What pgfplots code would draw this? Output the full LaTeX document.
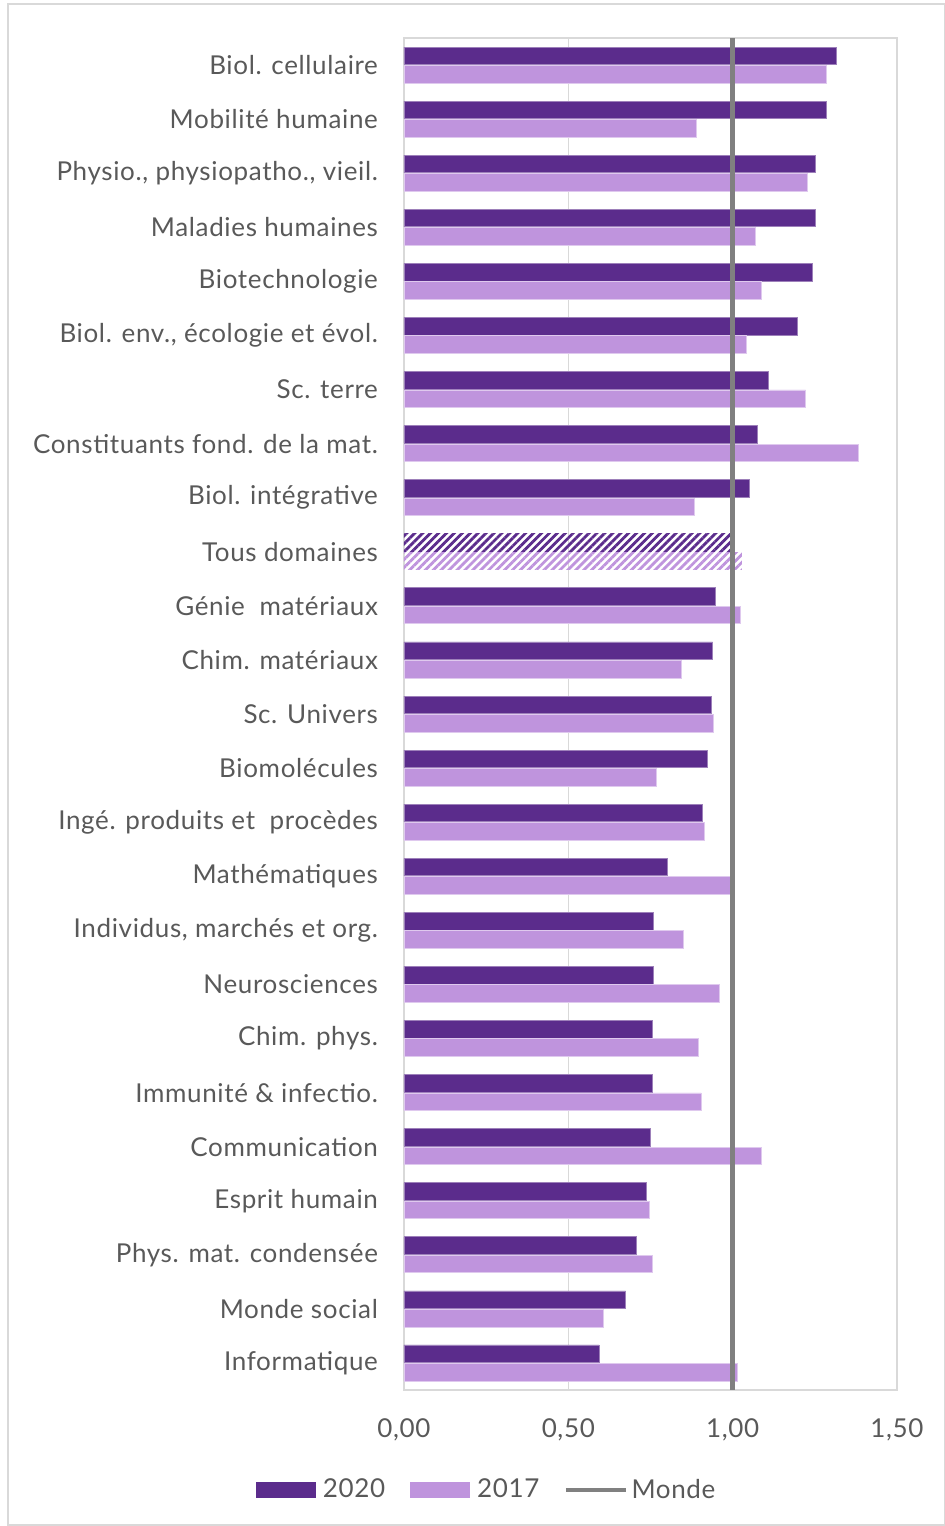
\documentclass[border=0pt]{standalone}
\usepackage{pgfplots}
\pgfplotsset{compat=1.18}
\usepackage{pgfplotstable}
\usepackage{fontspec}
\setmainfont{Lato}[LetterSpace=2.5]
\usetikzlibrary{patterns.meta}
\definecolor{c2020}{HTML}{5B2C8C}
\definecolor{c2017}{HTML}{BF94DD}
\definecolor{txt}{HTML}{595959}
\definecolor{grd}{HTML}{D9D9D9}
\definecolor{monde}{HTML}{808080}

% 2020 values (Tous domaines at index 9 drawn separately)
\pgfplotstableread{
y v
0 1.317
1 1.285
2 1.253
3 1.253
4 1.244
5 1.196
6 1.110
7 1.074
8 1.052
10 0.948
11 0.939
12 0.934
13 0.922
14 0.908
15 0.800
16 0.760
17 0.760
18 0.755
19 0.755
20 0.751
21 0.737
22 0.706
23 0.674
24 0.594
}\dataA
% 2017 values
\pgfplotstableread{
y v
0 1.285
1 0.890
2 1.226
3 1.070
4 1.087
5 1.043
6 1.222
7 1.384
8 0.885
10 1.024
11 0.845
12 0.940
13 0.769
14 0.913
15 0.996
16 0.850
17 0.961
18 0.895
19 0.904
20 1.087
21 0.746
22 0.755
23 0.607
24 1.015
}\dataB
\pgfplotstableread{
y v
9 0.995
}\dataAall
\pgfplotstableread{
y v
9 1.028
}\dataBall

\begin{document}
\begin{tikzpicture}
\useasboundingbox (-202pt,-68pt) rectangle (270pt,695pt);
\draw[grd, line width=1pt] (-198pt,-67.5pt) rectangle (270.5pt,693pt);
\begin{axis}[
  at={(0pt,0pt)}, anchor=south west,
  scale only axis, width=246.5pt, height=676pt,
  xmin=0, xmax=1.5, ymin=-0.5, ymax=24.5, y dir=reverse,
  axis line style={grd, line width=1pt},
  xmajorgrids, grid style={grd, line width=0.8pt},
  major tick length=0pt,
  xtick={0,0.5,1,1.5},
  xticklabels={{0,00},{0,50},{1,00},{1,50}},
  ytick={0,...,24},
  yticklabels={Biol. cellulaire, Mobilité humaine, {Physio., physiopatho., vieil.}, Maladies humaines, Biotechnologie, {Biol. env., écologie et évol.}, Sc. terre, Constituants fond. de la mat., Biol. intégrative, Tous domaines, Génie\ \ matériaux, Chim. matériaux, Sc. Univers, Biomolécules, Ingé. produits et\ \ procèdes, Mathématiques, {Individus, marchés et org.}, Neurosciences, Chim. phys., Immunité \& infectio., Communication, Esprit humain, Phys. mat. condensée, Monde social, Informatique},
  ticklabel style={font=\fontsize{13}{15}\selectfont, text=txt},
  xticklabel style={yshift=-11pt},
  yticklabel style={xshift=-9.5pt},
  legend style={at={(0.170,0)}, anchor=center, yshift=-50pt, draw=none, fill=none,
    legend columns=3, font=\fontsize{13}{15}\selectfont, text=txt,
    /tikz/every even column/.append style={column sep=10.5pt}},
  legend cell align=left,
]
\addplot[xbar, bar width=8.8pt, bar shift=4.6pt, fill=c2020, draw=c2020!60!white, line width=0.4pt,
  legend image code/.code={\fill[c2020] (0pt,-3.6pt) rectangle (29.5pt,3.6pt); \path (31pt,0pt);}]
  table[x=v, y=y]{\dataA};
\addplot[xbar, bar width=8.8pt, bar shift=-4.6pt, fill=c2017, draw=c2017!50!white, line width=0.4pt,
  legend image code/.code={\fill[c2017] (0pt,-3.6pt) rectangle (29.5pt,3.6pt); \path (31pt,0pt);}]
  table[x=v, y=y]{\dataB};
\addplot[xbar, bar width=8.8pt, bar shift=4.6pt, draw=none,
  pattern={Lines[angle=45, distance=2.8pt, line width=1.4pt]}, pattern color=c2020, forget plot]
  table[x=v, y=y]{\dataAall};
\addplot[xbar, bar width=8.8pt, bar shift=-4.6pt, draw=none,
  pattern={Lines[angle=45, distance=2.8pt, line width=1.4pt]}, pattern color=c2017, forget plot]
  table[x=v, y=y]{\dataBall};
\addplot[monde, line width=2.2pt, sharp plot, mark=none,
  legend image code/.code={\draw[monde, line width=1.6pt] (0pt,0pt) -- (30pt,0pt);}]
  coordinates {(1,-0.5) (1,24.5)};
\legend{2020, 2017, Monde}
\end{axis}
\end{tikzpicture}
\end{document}
